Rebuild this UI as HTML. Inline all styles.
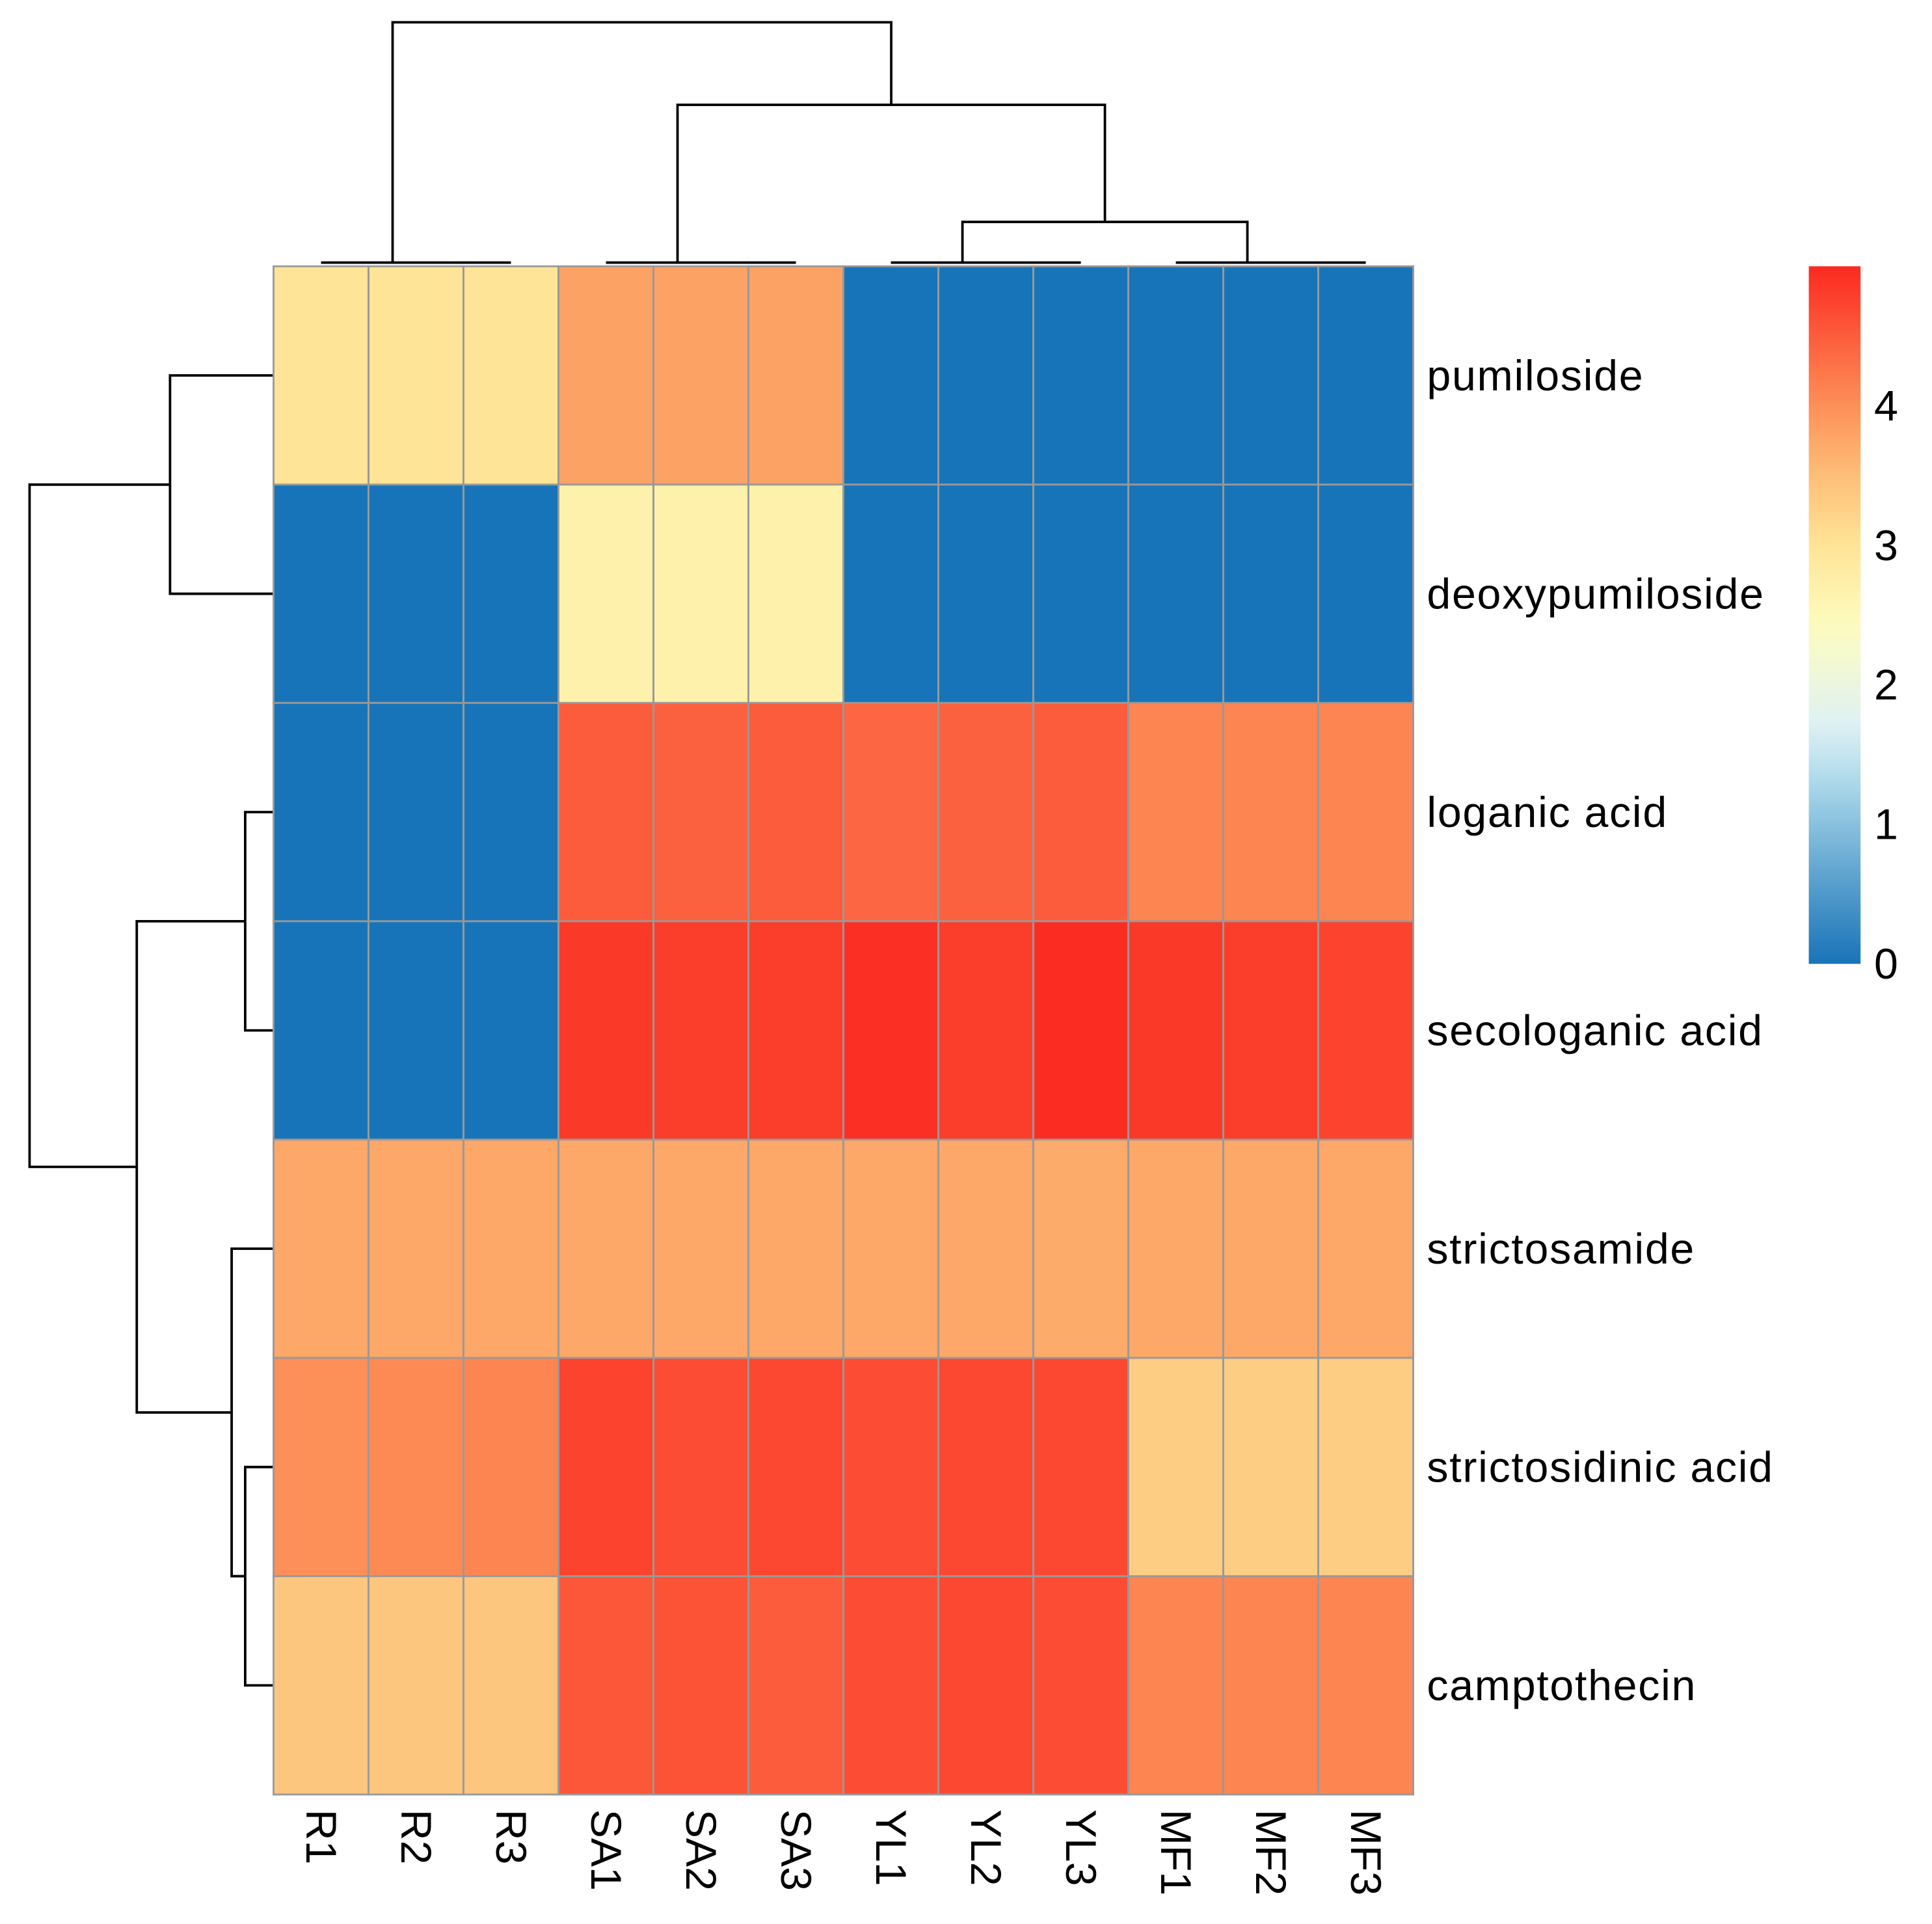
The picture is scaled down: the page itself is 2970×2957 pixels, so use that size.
<!DOCTYPE html>
<html><head><meta charset="utf-8"><style>
html,body{margin:0;padding:0;background:#fff;}
svg{display:block;}
text{font-family:"Liberation Sans",Arial,sans-serif;fill:#000;}
</style></head><body>
<svg id="chart" width="2970" height="2957" viewBox="0 0 1568 1561" xmlns="http://www.w3.org/2000/svg">
<g id="dendro-top" stroke="#000" stroke-width="2" fill="none"></g>
<g id="dendro-left" stroke="#000" stroke-width="2" fill="none"></g>
<g id="cells"></g>
<g id="rowlabels"></g>
<g id="collabels"></g>
<defs><linearGradient id="cbgrad" x1="0" y1="1" x2="0" y2="0"></linearGradient></defs>
<g id="legend"></g>
</svg>
<script>
const columns = ["R1","R2","R3","SA1","SA2","SA3","YL1","YL2","YL3","MF1","MF2","MF3"];
const rows = ["pumiloside","deoxypumiloside","loganic acid","secologanic acid","strictosamide","strictosidinic acid","camptothecin"];
const valPumiloside = [3.0,3.0,3.0,3.8,3.8,3.8,0,0,0,0,0,0];
const valDeoxy = [0,0,0,2.7,2.7,2.7,0,0,0,0,0,0];
const valLoganic = [0,0,0,4.5,4.45,4.5,4.4,4.45,4.5,4.1,4.1,4.1];
const valSeco = [0,0,0,4.85,4.8,4.8,4.95,4.8,4.97,4.85,4.8,4.75];
const valSamide = [3.75,3.75,3.75,3.75,3.75,3.75,3.75,3.75,3.7,3.75,3.75,3.75];
const valSidinic = [4.0,4.05,4.1,4.75,4.65,4.7,4.65,4.7,4.7,3.3,3.3,3.3];
const valCampto = [3.4,3.4,3.4,4.55,4.6,4.5,4.65,4.7,4.65,4.1,4.1,4.1];
const legendTicks = [0,1,2,3,4];
const legendMax = 5;

const NS="http://www.w3.org/2000/svg";
const matrix=[valPumiloside,valDeoxy,valLoganic,valSeco,valSamide,valSidinic,valCampto];
const X0=222,X1=1147,Y0=216,Y1=1456;
const cw=(X1-X0)/columns.length, rh=(Y1-Y0)/rows.length;
const xc=i=>X0+cw*(i+0.5), yc=j=>Y0+rh*(j+0.5);
const stops=[[0,[24,116,184]],[0.6,[90,160,205]],[1.2,[160,210,230]],[1.7,[222,241,246]],[2.4,[253,253,192]],[3.0,[254,228,150]],[3.5,[253,190,120]],[4.0,[253,143,88]],[4.5,[252,92,60]],[5.0,[251,42,32]]];
function color(v){
  for(let i=1;i<stops.length;i++){ if(v<=stops[i][0]){const a=stops[i-1],b=stops[i],t=(v-a[0])/(b[0]-a[0]);
    const c=a[1].map((x,k)=>Math.round(x+(b[1][k]-x)*t));return `rgb(${c})`;}}
  return `rgb(${stops[stops.length-1][1]})`;
}
function el(tag,attrs,parent){const e=document.createElementNS(NS,tag);for(const k in attrs)e.setAttribute(k,attrs[k]);parent.appendChild(e);return e;}
const cells=document.getElementById('cells');
matrix.forEach((row,j)=>row.forEach((v,i)=>{
  const r=el('rect',{x:X0+cw*i,y:Y0+rh*j,width:cw,height:rh,fill:color(v),stroke:'#999',"stroke-width":1.5},cells);
  
  
}));
const rl=document.getElementById('rowlabels');
rows.forEach((n,j)=>{const t=el('text',{x:1158,y:yc(j)+12,"font-size":35,"letter-spacing":0.9},rl);t.textContent=n;
  
  });
const cl=document.getElementById('collabels');
columns.forEach((n,i)=>{const t=el('text',{x:0,y:0,"font-size":35,transform:`translate(${xc(i)-12},1468) rotate(90)`},cl);t.textContent=n;
  
  });
const dt=document.getElementById('dendro-top');
function P(g,d){const p=el('path',{d:d},g);}
const yb=213;
const off=19;
[[0,1,2],[3,4,5],[6,7,8],[9,10,11]].forEach(g=>P(dt,`M${xc(g[0])-off+19},${yb}H${xc(g[2])}`));
const gR=xc(1)-off, gS=xc(4)-off, gY=xc(7)-off, gM=xc(10)-off;
P(dt,`M${gY},${yb}V180H${gM}V${yb}`);
P(dt,`M${gS},${yb}V85H${(gY+gM)/2}V180`);
P(dt,`M${gR},${yb}V18H${(gS+(gY+gM)/2)/2}V85`);
const dl=document.getElementById('dendro-left');
const xl=222;
P(dl,`M${xl},${yc(0)}H138V${yc(1)}H${xl}`);
P(dl,`M${xl},${yc(2)}H199V${yc(3)}H${xl}`);
P(dl,`M${xl},${yc(5)}H199V${yc(6)}H${xl}`);
const m56=(yc(5)+yc(6))/2;
P(dl,`M${xl},${yc(4)}H188V${m56}H199`);
const m456=(yc(4)+m56)/2, m23=(yc(2)+yc(3))/2;
P(dl,`M199,${m23}H111V${m456}H188`);
const m01=(yc(0)+yc(1))/2, mb=(m23+m456)/2;
P(dl,`M138,${m01}H24V${mb}H111`);
const gr=document.getElementById('cbgrad');
for(let k=0;k<=20;k++){const v=legendMax*k/20;el('stop',{offset:k/20,"stop-color":color(v)},gr);}
const lg=document.getElementById('legend');
const LY0=216,LY1=782;
const ly=v=>LY1-(LY1-LY0)*v/legendMax;
const bar=el('rect',{x:1468,y:LY0,width:42,height:LY1-LY0,fill:'url(#cbgrad)'},lg);

legendTicks.forEach(v=>{const t=el('text',{x:1521,y:ly(v)+12,"font-size":35},lg);t.textContent=v;
  
  });
</script>
</body></html>
